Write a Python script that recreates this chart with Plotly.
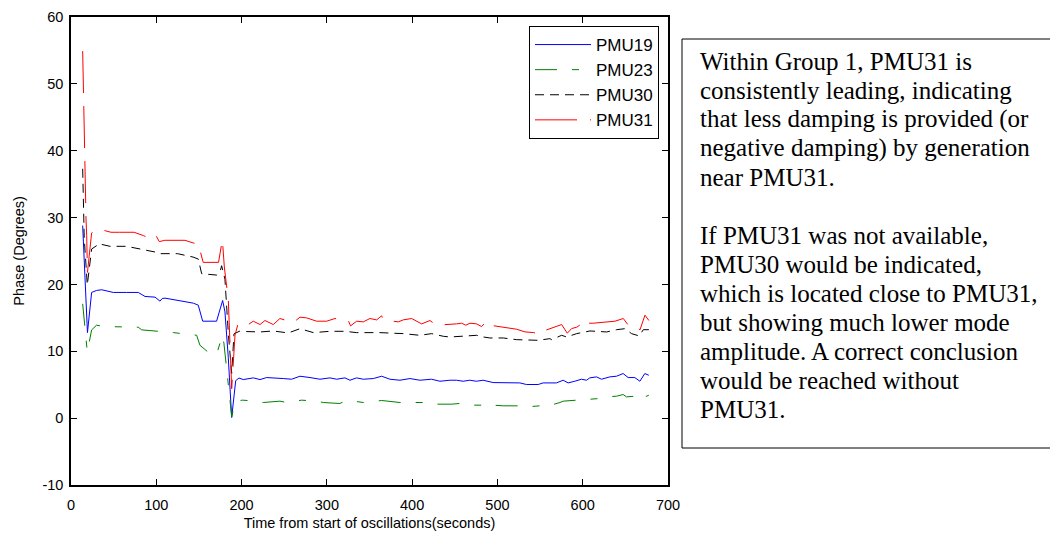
import plotly.graph_objects as go

# ---------------- data ----------------
t_pmu19 = [13.7, 19.3, 24.2, 30, 36, 42, 49.6, 65, 78.9, 86.8, 98.5, 104.3, 107, 110.2, 120, 131.7,
           143.4, 149.2, 154.4, 170.7, 177.8, 180.5, 184.4, 188.4, 193.1, 197, 202, 213.8, 221.6,
           229.4, 241.1, 248.9, 258.7, 268.5, 280.2, 291.9, 303.6, 311.5, 321.2, 327.1, 334.9,
           342.7, 354.4, 364.2, 374, 385.7, 397.4, 409.1, 422.8, 432.6, 444.3, 451.9, 459.8, 467.6,
           475.4, 483.2, 495, 510.6, 526.3, 534.1, 547.8, 553.6, 569.3, 577.1, 582.9, 590.7, 598.5,
           604.4, 608.3, 616.1, 622, 631.8, 639.6, 647.4, 653.3, 661.1, 667, 672.8, 677.5]
v_pmu19 = [28.8, 12.8, 18.8, 19.1, 19.2, 19.0, 18.8, 18.8, 18.8, 18.2, 18.1, 17.5, 17.9, 17.95, 17.7, 17.5,
           17.2, 16.9, 14.5, 14.5, 17.6, 15.9, 9.1, 0.1, 5.6, 6.0, 5.77, 6.02, 5.77,
           6.07, 6.02, 5.92, 5.82, 6.27, 6.07, 5.82, 6.02, 5.82, 6.02, 5.67, 6.02,
           5.82, 5.92, 6.27, 5.82, 5.67, 5.92, 5.67, 5.82, 5.52, 5.67, 5.67, 5.52, 5.67,
           5.52, 5.67, 5.32, 5.27, 5.27, 5.03, 5.03, 5.27, 5.27, 5.67, 5.27, 5.52, 5.82,
           5.67, 6.02, 6.17, 5.82, 6.17, 6.27, 6.67, 6.07, 6.07, 5.52, 6.67, 6.42]

t_pmu23 = [13.7, 16.4, 19.1, 24.2, 30, 39.9, 52, 65.3, 78.9, 82.9, 95, 108.2, 120, 135.6, 147.3,
           151.2, 162.9, 170.7, 177.4, 179.3, 182.5, 186.4, 188.4, 192.3, 196, 201.2, 217.7, 225.5,
           245, 252.8, 270.4, 288, 295.8, 315.3, 323.2, 342.7, 364.2, 385.7, 413, 420.9, 446.3, 456,
           463.9, 483.2, 489.1, 495, 506.7, 526.3, 534.1, 549.8, 561.5, 565.4, 573.3, 577.1, 592.8,
           620.2, 628, 639.6, 647.4, 651.3, 661.1, 667, 670, 677.5]
v_pmu23 = [17.1, 13.6, 9.9, 13.2, 13.9, 13.7, 13.7, 13.6, 13.6, 13.2, 13.1, 12.9, 12.8, 12.55, 12.4,
           10.9, 9.65, 9.5, 12.4, 11.2, 6.9, 2.7, 0.2, 2.2, 2.6, 2.69, 2.54, 2.34,
           2.54, 2.34, 2.69, 2.54, 2.34, 2.19, 2.69, 2.34, 2.64, 2.34, 2.34, 2.09, 2.09, 2.19,
           1.94, 1.94, 2.19, 1.94, 1.84, 1.84, 1.69, 1.84, 1.79, 2.04, 2.34, 2.54, 2.69,
           2.94, 3.18, 3.28, 3.53, 3.18, 3.28, 2.69, 3.0, 3.43]

t_pmu30 = [13.7, 15.5, 19.1, 24.2, 30.1, 32, 45.7, 65, 80.9, 90, 100.4, 104.3, 116, 125, 135.6, 143,
           149.2, 153.2, 170.7, 174.6, 176.6, 180.5, 184.5, 188.4, 191.1, 197.3, 206, 221.6, 237.2,
           254.8, 268.5, 284.2, 303.6, 321.2, 334.9, 362.3, 389.6, 409.2, 422.9, 436.6, 444.3, 460,
           475.6, 483.4, 491.2, 506.9, 522.5, 547.9, 561.5, 563.5, 575.3, 581.1, 592.9, 608.5, 628.1,
           639.7, 649.5, 657.3, 666.3, 671, 677.6]
v_pmu30 = [37.3, 27.0, 19.9, 25.3, 25.8, 26.1, 25.7, 25.7, 25.3, 25.1, 24.8, 24.6, 24.6, 24.6, 24.3, 24.1,
           23.8, 21.6, 21.4, 21.8, 22.8, 20.8, 12.6, 6.7, 12.6, 12.99, 12.95, 12.89, 13.04,
           12.74, 13.38, 12.79, 12.99, 12.99, 12.79, 12.79, 12.64, 12.39, 12.64, 12.24, 12.14, 12.24,
           12.39, 12.14, 11.99, 11.99, 11.74, 11.64, 11.89, 11.74, 12.39, 12.14, 12.64, 13.04, 12.89,
           13.23, 13.38, 12.64, 12.29, 13.23, 13.23]

t_pmu31 = [13.7, 14.5, 15.2, 15.9, 16.4, 17.6, 18.4, 19.3, 24.2, 30, 34, 38, 47, 57, 74, 85, 92.6,
           99.3, 103.5, 110, 120, 133.6, 143.4, 149.2, 155, 173, 177.5, 179.8, 184.5, 188.4, 192.3,
           196, 201.2, 207.9, 213.7, 221.6, 227.4, 237.2, 245, 260.6, 268.5, 276.3, 288, 299.7,
           309.5, 325.1, 327.8, 334.9, 342.7, 350.5, 358.4, 364.2, 366.1, 383.7, 389.6, 399.4,
           411.1, 420.9, 428.7, 446.3, 452.1, 458, 463, 467.8, 475.6, 481.4, 487.3, 491.2, 508.8,
           514.7, 522.5, 532.3, 542, 549.1, 553.8, 557.7, 575.3, 581.9, 587, 592.9, 598.8, 602.7,
           606.6, 612.4, 630, 637.8, 647.6, 653.4, 661.2, 667.1, 673, 677.6]
v_pmu31 = [54.9, 48.2, 45.7, 39.0, 36.8, 29.8, 27.3, 21.8, 27.7, 28.1, 28.3, 28.1, 27.8, 27.8, 27.8, 27.3, 26.9,
           27.4, 26.4, 26.6, 26.6, 26.6, 26.2, 26.1, 23.3, 23.3, 26.7, 22.6, 17.6, 4.4, 12.4,
           14.2, 14.2, 14.0, 14.5, 14.0, 14.6, 14.0, 14.9, 14.3, 15.1, 15.0, 14.5, 14.5,
           14.9, 14.6, 13.8, 14.5, 14.4, 14.9, 14.7, 15.3, 14.7, 14.4, 14.7, 14.9,
           14.1, 14.6, 13.9, 14.0, 14.1, 14.2, 13.9, 14.2, 14.1, 13.7, 14.5, 13.9, 13.6,
           13.4, 13.3, 12.9, 12.8, 12.6, 13.2, 13.2, 14.0, 12.7, 13.4, 13.6, 14.1, 13.6,
           14.2, 14.2, 14.4, 14.5, 14.9, 13.9, 13.9, 13.2, 15.4, 14.6]

series_names = ["PMU19", "PMU23", "PMU30", "PMU31"]

x_tick_vals = [0, 100, 200, 300, 400, 500, 600, 700]
x_tick_labels = ["0", "100", "200", "300", "400", "500", "600", "700"]
y_tick_vals = [-10, 0, 10, 20, 30, 40, 50, 60]
y_tick_labels = ["-10", "0", "10", "20", "30", "40", "50", "60"]

x_title = "Time from start of oscillations(seconds)"
y_title = "Phase (Degrees)"

note_lines = [
    "Within Group 1, PMU31 is",
    "consistently leading, indicating",
    "that less damping is provided (or",
    "negative damping) by generation",
    "near PMU31.",
    "",
    "If PMU31 was not available,",
    "PMU30 would be indicated,",
    "which is located close to PMU31,",
    "but showing much lower mode",
    "amplitude. A correct conclusion",
    "would be reached without",
    "PMU31.",
]

# ---------------- layout geometry (reference-window pixels) ----------------
OFF = 8                      # the page body margin offsets the figure by 8px
WIN_W, WIN_H = 1058, 533
W, H = WIN_W - OFF, WIN_H - OFF
L, R, T, B = 71, 668, 17, 485   # plot area in window pixels


def px_x(px):
    return (px - L) / (R - L)


def px_y(py):
    return (B - py) / (B - T)


fig = go.Figure()

styles = [
    dict(color="#0000FF", width=1, dash="solid"),
    dict(color="#008000", width=1, dash="22px,15px,7px,15px"),
    dict(color="#000000", width=1, dash="9px,6px"),
    dict(color="#FF0000", width=1, dash="42px,13px"),
]
all_t = [t_pmu19, t_pmu23, t_pmu30, t_pmu31]
all_v = [v_pmu19, v_pmu23, v_pmu30, v_pmu31]
for name, tt, vv, st in zip(series_names, all_t, all_v, styles):
    fig.add_trace(go.Scatter(x=tt, y=vv, mode="lines", name=name, line=st))

axis_common = dict(
    showline=True, linecolor="black", linewidth=1.5, mirror="ticks",
    ticks="inside", ticklen=6, tickcolor="black", tickwidth=1,
    showgrid=False, zeroline=False, automargin=False,
    tickfont=dict(family="Liberation Sans, Arial, sans-serif", size=14.5, color="black"),
)

fig.update_layout(
    width=W, height=H,
    margin=dict(l=L - OFF, r=WIN_W - R, t=T - OFF, b=WIN_H - B),
    paper_bgcolor="white", plot_bgcolor="white",
    font=dict(family="Liberation Sans, Arial, sans-serif", color="black"),
    xaxis=dict(range=[0, 700], tickvals=x_tick_vals, ticktext=x_tick_labels,
               ticklabelstandoff=6,
               title=dict(text=x_title, standoff=6,
                          font=dict(size=14.5, family="Liberation Sans, Arial, sans-serif")),
               **axis_common),
    yaxis=dict(range=[-10, 60], tickvals=y_tick_vals, ticktext=y_tick_labels,
               ticklabelstandoff=3,
               title=dict(text=y_title, standoff=14,
                          font=dict(size=14.5, family="Liberation Sans, Arial, sans-serif")),
               **axis_common),
    legend=dict(x=px_x(659), xanchor="right", y=px_y(26), yanchor="top",
                bgcolor="white", bordercolor="black", borderwidth=1,
                font=dict(size=17, family="Liberation Sans, Arial, sans-serif"),
                itemwidth=56),
    showlegend=True,
)

# text box frame
fig.add_shape(type="rect", xref="paper", yref="paper",
              x0=px_x(682), x1=px_x(1075), y0=px_y(448), y1=px_y(39),
              line=dict(color="black", width=1), fillcolor="rgba(0,0,0,0)")

fs = 25
for k, line in enumerate(note_lines):
    if not line:
        continue
    baseline = 70 + 29 * k
    fig.add_annotation(xref="paper", yref="paper", x=px_x(698), y=px_y(baseline - 0.35 * fs),
                       xanchor="left", yanchor="middle", showarrow=False, text=line, align="left",
                       font=dict(family="Liberation Serif, Times New Roman, serif", size=fs, color="black"))

fig.write_html("out.html")
